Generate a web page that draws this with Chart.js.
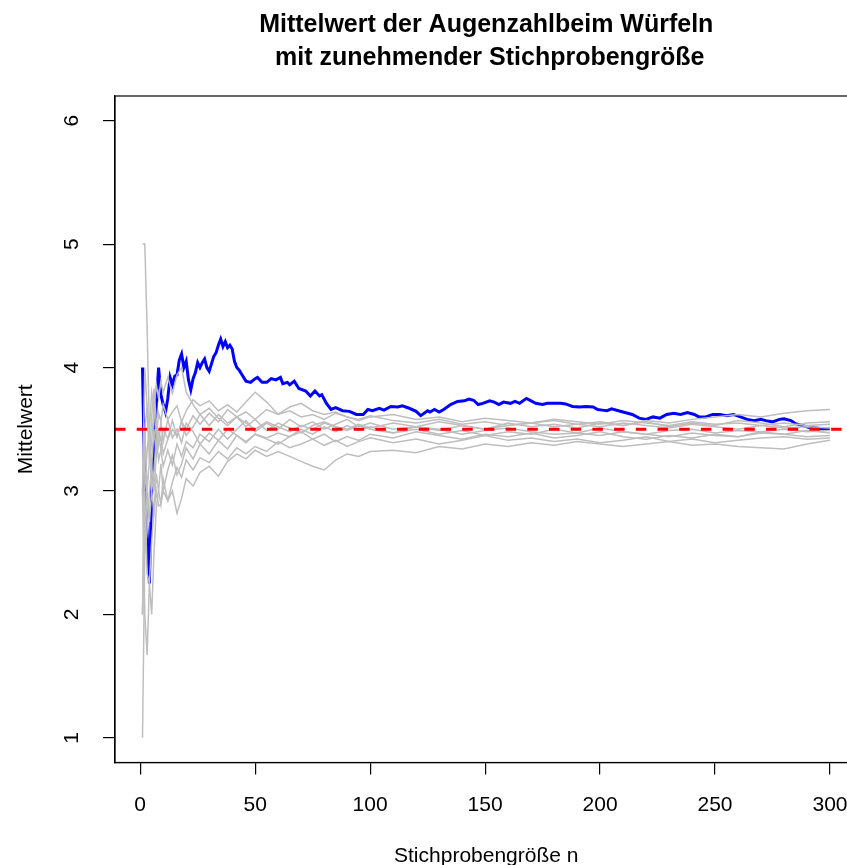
<!DOCTYPE html>
<html>
<head>
<meta charset="utf-8">
<script src="https://cdn.jsdelivr.net/npm/chart.js@4/dist/chart.umd.min.js"></script>
<style>
  html, body { margin: 0; padding: 0; background: #fff; overflow: hidden; width: 847px; height: 865px; }
  canvas { display: block; }
</style>
</head>
<body>
<canvas id="c" width="880" height="865"></canvas>
<script>
// ---------- data ----------
const titleLines = ['Mittelwert der Augenzahlbeim Würfeln', ' mit zunehmender Stichprobengröße'];
const xTitle = 'Stichprobengröße n';
const yTitle = 'Mittelwert';
const xTicks = [0, 50, 100, 150, 200, 250, 300];
const yTicks = [1, 2, 3, 4, 5, 6];
const trueMean = 3.5;

// sample sizes at which the grey running means were read
const nGray = [1,2,3,4,5,6,7,8,9,10,12,14,16,18,20,23,26,30,34,38,42,46,50,55,60,65,70,75,80,85,90,95,100,
  110,120,130,140,150,160,170,180,190,200,210,220,230,240,250,260,270,280,290,300];

const gray1 = [5.00,5.00,4.33,3.50,3.00,3.17,3.43,3.25,3.33,3.50, 3.42,3.57,3.44,3.56,3.45, 3.52,3.62,3.53,3.62,3.55,3.60,3.52,3.58,
  3.49,3.55,3.51,3.47,3.53,3.56,3.52,3.49,3.53,3.50, 3.47,3.52,3.50,3.46,3.49,3.51,3.48,3.46,3.47,3.45, 3.48,3.46,3.44,3.47,3.45,3.44,3.47,3.46,3.44,3.45];
const gray2 = [1.00,2.50,2.67,3.00,3.20,3.50,3.29,3.50,3.33,3.20, 3.33,3.21,3.38,3.28,3.40, 3.35,3.46,3.40,3.50,3.42,3.50,3.57,3.48,
  3.55,3.50,3.58,3.52,3.56,3.50,3.54,3.58,3.52,3.55, 3.50,3.52,3.49,3.53,3.50,3.55,3.52,3.54,3.51,3.55, 3.53,3.56,3.52,3.55,3.53,3.57,3.55,3.52,3.55,3.56];
const gray3 = [3.00,2.00,1.67,2.25,2.60,2.83,3.14,3.00,2.89,3.10, 2.92,3.00,2.82,2.94,3.10, 3.04,3.15,3.20,3.12,3.24,3.30,3.26,3.33,
  3.28,3.32,3.28,3.24,3.20,3.17,3.25,3.30,3.28,3.32, 3.33,3.31,3.36,3.34,3.38,3.36,3.39,3.37,3.40,3.38, 3.36,3.38,3.40,3.37,3.38,3.36,3.35,3.34,3.38,3.41];
const gray4 = [2.00,3.00,2.33,2.25,2.00,2.50,2.86,3.00,3.22,3.00, 3.17,3.29,3.13,3.22,3.35, 3.26,3.38,3.30,3.41,3.34,3.45,3.39,3.46,
  3.42,3.38,3.44,3.48,3.42,3.46,3.40,3.44,3.41,3.46, 3.43,3.48,3.45,3.42,3.46,3.44,3.47,3.43,3.45,3.48, 3.44,3.42,3.45,3.43,3.46,3.44,3.48,3.46,3.49,3.47];
const gray5 = [3.00,3.50,3.67,3.50,3.80,3.67,3.86,3.75,3.89,3.80, 3.92,3.79,3.94,4.00,3.80, 3.70,3.62,3.67,3.59,3.53,3.60,3.55,3.50,
  3.56,3.52,3.48,3.53,3.50,3.55,3.52,3.50,3.54,3.51, 3.55,3.52,3.56,3.53,3.50,3.53,3.55,3.52,3.54,3.56, 3.53,3.57,3.55,3.58,3.60,3.62,3.60,3.63,3.65,3.66];
const gray6 = [3.00,4.00,3.67,3.25,3.40,3.67,3.43,3.63,3.56,3.70, 3.58,3.64,3.69,3.56,3.65, 3.74,3.69,3.73,3.65,3.70,3.64,3.72,3.80,
  3.72,3.62,3.65,3.60,3.62,3.58,3.63,3.60,3.57,3.60, 3.62,3.58,3.60,3.56,3.59,3.57,3.55,3.58,3.56,3.54, 3.57,3.55,3.53,3.56,3.54,3.55,3.53,3.55,3.53,3.54];
const gray7 = [2.00,3.00,3.33,3.50,3.20,3.00,3.29,3.38,3.44,3.30, 3.42,3.50,3.44,3.56,3.50, 3.61,3.54,3.63,3.56,3.66,3.60,3.64,3.58,
  3.66,3.62,3.68,3.71,3.65,3.62,3.64,3.60,3.58,3.61, 3.57,3.55,3.58,3.54,3.56,3.53,3.55,3.57,3.54,3.52, 3.55,3.53,3.51,3.54,3.52,3.50,3.53,3.51,3.52,3.51];
const gray8 = [3.00,2.50,3.00,2.75,3.00,2.83,3.00,2.88,2.89,3.00, 2.92,3.07,3.19,3.11,3.25, 3.17,3.27,3.23,3.32,3.26,3.35,3.30,3.36,
  3.32,3.40,3.35,3.38,3.42,3.37,3.41,3.36,3.40,3.43, 3.39,3.42,3.38,3.41,3.45,3.41,3.43,3.40,3.42,3.39, 3.41,3.44,3.40,3.42,3.39,3.41,3.43,3.44,3.42,3.43];
const gray9 = [2.00,3.50,3.00,3.25,3.60,3.83,3.57,3.38,3.56,3.40, 3.58,3.43,3.50,3.39,3.55, 3.48,3.38,3.47,3.41,3.50,3.45,3.40,3.46,
  3.43,3.47,3.44,3.50,3.46,3.52,3.48,3.53,3.49,3.52, 3.47,3.50,3.46,3.49,3.45,3.48,3.46,3.50,3.47,3.51, 3.48,3.46,3.49,3.50,3.47,3.49,3.48,3.50,3.48,3.49];
const grayMeans = [gray1, gray2, gray3, gray4, gray5, gray6, gray7, gray8, gray9];

// highlighted (blue) running mean
const blueN = [1,2,3,4,5,6,7,8,9,10, 11,12,13,14,15,16,17,18,19,20, 21,22,23,24,25,26,27,28,29,30,
  31,32,33,34,35,36,37,38,39,40, 41,42,43,44,46,48,50,51,53,55, 57,59,61,62,64,65,67,69,72,74,
  76,78,79,81,83,85,88,91,94,97, 99,101,104,106,109,112,114,117,120,122, 125,126,128,130,132,135,138,141,143,145,
  147,149,152,154,156,158,161,163,165,168, 170,172,175,177,180,183,185,188,191,194, 197,199,201,203,205,208,210,212,214,217,
  220,223,226,229,232,235,238,241,243,246, 249,252,255,258,261,264,267,270,272,275, 278,280,283,285,288,291,294,297,300];
const blueMean = [4.00,3.00,2.67,2.25,3.00,3.33,3.71,4.00,3.78,3.70, 3.64,3.75,3.92,3.86,3.93,3.94,4.06,4.11,4.00,4.05,
  3.90,3.82,3.91,3.96,4.04,4.00,4.04,4.07,4.00,3.97, 4.03,4.09,4.12,4.18,4.23,4.17,4.21,4.16,4.18,4.15,
  4.05,4.00,3.98,3.95,3.89,3.88,3.91,3.92,3.88,3.88, 3.91,3.90,3.92,3.87,3.88,3.86,3.89,3.83,3.81,3.77,
  3.81,3.77,3.78,3.71,3.66,3.675,3.65,3.645,3.62,3.62, 3.66,3.65,3.67,3.655,3.685,3.68,3.69,3.67,3.645,3.61,
  3.65,3.64,3.66,3.64,3.66,3.70,3.725,3.73,3.745,3.735, 3.70,3.71,3.73,3.72,3.70,3.72,3.71,3.725,3.71,3.75,
  3.73,3.71,3.70,3.71,3.71,3.71,3.705,3.685,3.68,3.685, 3.68,3.66,3.655,3.65,3.665,3.65,3.64,3.63,3.62,3.59,
  3.58,3.60,3.59,3.62,3.63,3.62,3.635,3.62,3.60,3.60, 3.62,3.62,3.61,3.62,3.60,3.58,3.57,3.58,3.57,3.56,
  3.58,3.585,3.57,3.545,3.53,3.515,3.51,3.50,3.50];

// ---------- chart ----------
const xMin = 1 - 0.04 * 299, xMax = 300 + 0.04 * 299;   // R default axis extension
const yMin = 1 - 0.04 * 5,   yMax = 6 + 0.04 * 5;

function zip(xs, ys) { const n = Math.min(xs.length, ys.length); const out = []; for (let i = 0; i < n; i++) out.push({x: xs[i], y: ys[i]}); return out; }

Chart.defaults.font.family = "'Liberation Sans', Arial, Helvetica, sans-serif";
Chart.defaults.color = '#000';

const datasets = [];
datasets.push({ label: 'Erwartungswert', data: [{x: xMin, y: trueMean}, {x: xMax, y: trueMean}],
  borderColor: '#FF0000', borderWidth: 3, borderDash: [10.5, 11.2], pointRadius: 0, fill: false });
grayMeans.forEach((g, i) => datasets.push({ label: 'Serie ' + (i + 1), data: zip(nGray, g),
  borderColor: '#BEBEBE', borderWidth: 1.5, pointRadius: 0, fill: false, tension: 0 }));
datasets.push({ label: 'Serie hervorgehoben', data: zip(blueN, blueMean),
  borderColor: '#0000FF', borderWidth: 3, pointRadius: 0, fill: false, tension: 0 });

const boxPlugin = {
  id: 'box',
  afterDraw(chart) {
    const {ctx, chartArea: a} = chart;
    ctx.save();
    ctx.strokeStyle = '#000'; ctx.lineWidth = 1.2;
    ctx.strokeRect(a.left, a.top, a.right - a.left, a.bottom - a.top);
    ctx.restore();
  }
};

new Chart(document.getElementById('c'), {
  type: 'line',
  data: { datasets },
  plugins: [boxPlugin],
  options: {
    responsive: false, animation: false, devicePixelRatio: 1,
    layout: { padding: { left: 0, right: 22.5, top: 0, bottom: 0 } },
    plugins: {
      legend: { display: false }, tooltip: { enabled: false },
      title: { display: true, text: titleLines, fullSize: false, color: '#000',
        font: { size: 25, weight: 'bold', lineHeight: 1.3 }, padding: { top: 9, bottom: 22 } }
    },
    scales: {
      x: { type: 'linear', min: xMin, max: xMax,
        afterBuildTicks: s => { s.ticks = xTicks.map(v => ({ value: v })); },
        afterFit: s => { s.height = 102.5; },
        ticks: { autoSkip: false, maxRotation: 0, minRotation: 0, padding: 18, font: { size: 21 }, color: '#000' },
        grid: { drawOnChartArea: false, drawTicks: true, tickLength: 12, color: '#000', lineWidth: 1.2 },
        border: { display: true, color: '#000', width: 1.2 },
        title: { display: true, text: xTitle, color: '#000', font: { size: 21, lineHeight: 0.8 }, padding: { top: 0, bottom: 0 } }
      },
      y: { type: 'linear', min: yMin, max: yMax,
        afterBuildTicks: s => { s.ticks = yTicks.map(v => ({ value: v })); },
        afterFit: s => { s.width = 115; },
        ticks: { autoSkip: false, minRotation: 90, maxRotation: 90, crossAlign: 'center', padding: 25, font: { size: 21 }, color: '#000' },
        grid: { drawOnChartArea: false, drawTicks: true, tickLength: 12, color: '#000', lineWidth: 1.2 },
        border: { display: true, color: '#000', width: 1.2 },
        title: { display: true, text: yTitle, color: '#000', font: { size: 21, lineHeight: 0.8 }, padding: { top: 18, bottom: 0 } }
      }
    }
  }
});
</script>
</body>
</html>
